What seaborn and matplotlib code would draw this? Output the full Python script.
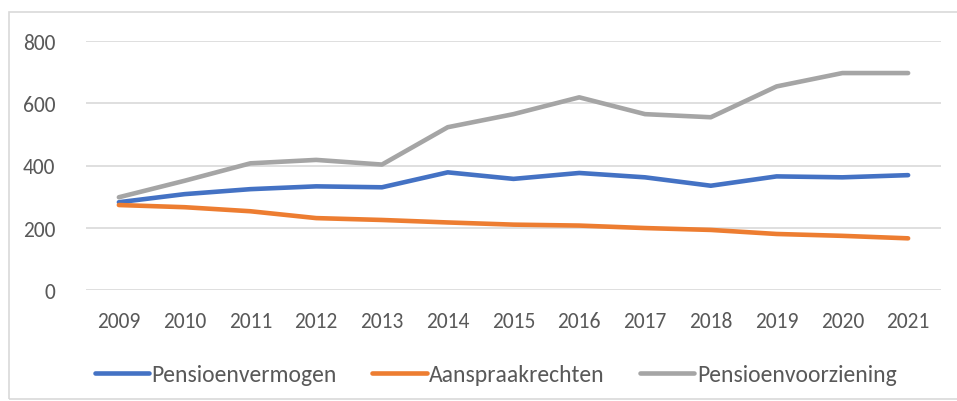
import numpy as np
import pandas as pd
import matplotlib
matplotlib.use('Agg')
import matplotlib.pyplot as plt
import seaborn as sns

# data
years = [2009, 2010, 2011, 2012, 2013, 2014, 2015, 2016, 2017, 2018, 2019, 2020, 2021]
vermogen = [282, 308, 324, 333, 330, 378, 357, 376, 362, 335, 365, 362, 369]
aanspraak = [273, 266, 253, 231, 225, 217, 210, 207, 199, 193, 180, 174, 166]
voorziening = [298, 351, 407, 418, 403, 523, 565, 619, 565, 555, 654, 697, 697]
series_names = ['Pensioenvermogen', 'Aanspraakrechten', 'Pensioenvoorziening']
colors = ['#4472C4', '#ED7D31', '#A5A5A5']

df = pd.DataFrame({'jaar': years * 3,
                   'waarde': vermogen + aanspraak + voorziening,
                   'reeks': [n for n in series_names for _ in years]})

sns.set_style('white')
plt.rcParams['font.family'] = ['Liberation Sans Narrow', 'Carlito', 'DejaVu Sans']

fig = plt.figure(figsize=(9.57, 4.02), dpi=100)
ax = fig.add_axes([86 / 957, 1 - 291 / 402, 855 / 957, 249 / 402])

sns.lineplot(data=df, x='jaar', y='waarde', hue='reeks', hue_order=series_names,
             palette=colors, linewidth=3.3, ax=ax, legend=False)
for ln in ax.lines:
    ln.set_solid_capstyle('round')

ax.set_xlim(2008.5, 2021.5)
ax.set_ylim(0, 800)
ax.set_yticks([0, 200, 400, 600, 800])
ax.set_xticks(years)
ax.set_xlabel('')
ax.set_ylabel('')
ax.grid(axis='y', color='#D9D9D9', linewidth=1.2)
ax.set_axisbelow(True)
for s in ax.spines.values():
    s.set_visible(False)
ax.tick_params(axis='both', length=0, labelsize=15.5, labelcolor='#595959')
ax.tick_params(axis='y', pad=22)
ax.tick_params(axis='x', pad=15)

handles = [plt.Line2D([], [], color=c, linewidth=3.3, solid_capstyle='round') for c in colors]
fig.legend(handles, series_names, loc='center', bbox_to_anchor=(0.518, 1 - 376 / 402),
           ncol=3, frameon=False, fontsize=17, labelcolor='#595959',
           handlelength=2.3, handletextpad=0.1, columnspacing=1.5)

# light chart frame
fig.patches.append(plt.Rectangle((9 / 957, 2 / 402), 1.0, 1 - 15 / 402, transform=fig.transFigure,
                                 fill=False, edgecolor='#D9D9D9', linewidth=1.2))

fig.savefig('out.png', dpi=100)
